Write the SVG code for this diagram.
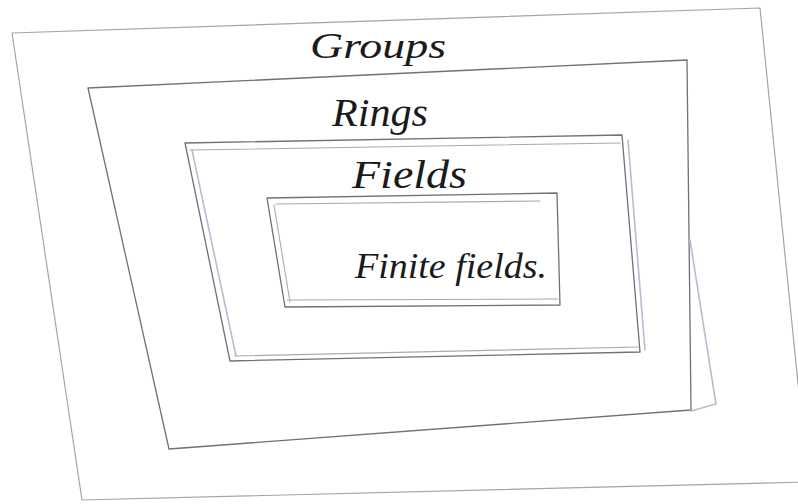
<svg xmlns="http://www.w3.org/2000/svg" width="798" height="504" viewBox="0 0 798 504">
<style>
.frame{fill:none;stroke:#707076;stroke-width:1.3;stroke-linejoin:round;stroke-linecap:round}
.outer{stroke:#a4a4aa;stroke-width:1.2}
.faint{fill:none;stroke:#b9bccf;stroke-width:1.6;stroke-linecap:round}
.light{fill:none;stroke:#a9a9b0;stroke-width:1.1;stroke-linecap:round}
.lbl{font-family:"Liberation Serif","DejaVu Serif",serif;font-style:italic;fill:#1a1a1a}
</style>
<rect width="798" height="504" fill="#ffffff"/>
<g id="groups">
<polygon class="frame outer" points="12,33 760,8 808,482 82,500"/>
<text class="lbl" x="310" y="58" font-size="35" textLength="136" lengthAdjust="spacingAndGlyphs">Groups</text>
</g>
<g id="rings">
<polygon class="frame" points="88,88 687,60 691,410 169,449"/>
<polyline class="faint" points="690,240 716,404 691,411"/>
<text class="lbl" x="332" y="126" font-size="41" textLength="96" lengthAdjust="spacingAndGlyphs">Rings</text>
</g>
<g id="fields">
<polygon class="frame" points="185,143 622,135 640,352 230,361"/>
<polyline class="light" points="190,150 620,143"/>
<polyline class="faint" points="192,150 236,356"/>
<polyline class="faint" points="628,140 645,350"/>
<polyline class="light" points="235,356 638,347"/>
<text class="lbl" x="352" y="188" font-size="39" textLength="115" lengthAdjust="spacingAndGlyphs">Fields</text>
</g>
<g id="finite-fields">
<polygon class="frame" points="267,198 557,193 560,305 285,307"/>
<polyline class="light" points="276,204 540,201"/>
<polyline class="light" points="274,205 290,302"/>
<polyline class="light" points="287,300 558,299"/>
<text class="lbl" x="355" y="278" font-size="35" textLength="192" lengthAdjust="spacingAndGlyphs">Finite fields.</text>
</g>
<g id="connectors"/>
</svg>
